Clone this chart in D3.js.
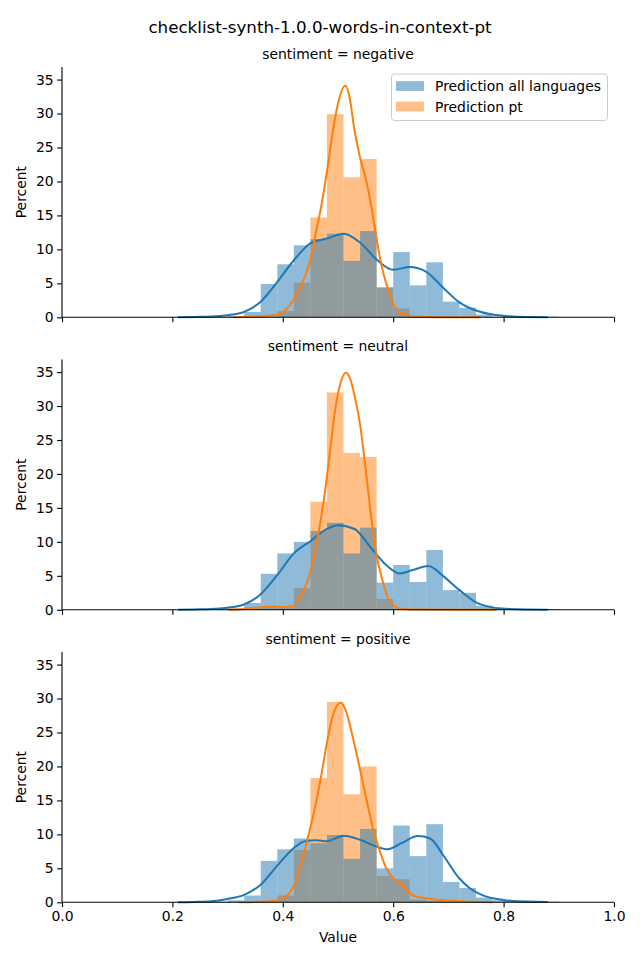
<!DOCTYPE html>
<html><head><meta charset="utf-8">
<script src="https://cdn.jsdelivr.net/npm/d3@7"></script>
<style>
body{margin:0;background:#fff;}
svg text{font-family:"DejaVu Sans",sans-serif;fill:#000;}
</style></head>
<body><svg id="chart" width="640" height="960"></svg>
<script>
const title = "checklist-synth-1.0.0-words-in-context-pt";
const panels = ["sentiment = negative", "sentiment = neutral", "sentiment = positive"];
const seriesNames = ["Prediction all languages", "Prediction pt"];
const binEdges = [0.21,0.24,0.27,0.30,0.33,0.36,0.39,0.42,0.45,0.48,0.51,0.54,0.57,0.60,0.63,0.66,0.69,0.72,0.75,0.78,0.81,0.84,0.87,0.90];
const xTicks = [0, 0.2, 0.4, 0.6, 0.8, 1.0];
const yTicks = [0, 5, 10, 15, 20, 25, 30, 35];

// histogram percents per bin
const allNeg = [0.1,0.1,0.1,0.2,0.8,4.9,7.8,10.6,11.5,12.3,8.3,12.7,4.4,9.6,4.7,8.1,2.3,1.4,0.4,0.1,0.1,0.1,0.1];
const ptNeg  = [0,0,0,0,0.1,0.1,0.9,5.1,14.7,29.9,20.6,23.3,4.4,1.3,0.1,0,0,0,0,0,0,0,0];
const allNeu = [0.1,0.1,0.1,0.2,1.0,5.3,8.3,10.0,11.6,12.8,8.3,12.1,4.0,6.6,4.1,8.8,2.9,2.5,0.6,0.2,0.1,0.1,0.1];
const ptNeu  = [0,0,0,0.1,0.3,0.4,0.35,3.2,15.9,32.0,23.1,22.5,1.6,0.2,0,0,0,0,0,0,0,0,0];
const allPos = [0.1,0.1,0.1,0.3,1.0,6.1,7.8,9.4,8.7,9.9,6.4,10.8,5.0,11.3,6.8,11.5,3.0,2.1,0.7,0.3,0.2,0.2,0.1];
const ptPos  = [0,0,0,0,0.1,0.1,1.0,7.7,18.3,29.5,15.9,20.0,3.9,3.4,0.4,0.2,0.1,0.1,0,0,0,0,0];

// KDE curves: [value, percent]
const kdeAllNeg = [[0.21,0],[0.24,0.05],[0.27,0.1],[0.30,0.3],[0.33,0.8],[0.36,2.3],[0.39,5.2],[0.42,8.4],[0.45,10.9],[0.48,11.6],[0.51,12.3],[0.54,11.0],[0.57,8.5],[0.60,7.0],[0.63,7.4],[0.66,6.7],[0.69,4.4],[0.72,2.2],[0.75,1.0],[0.78,0.4],[0.81,0.15],[0.84,0.05],[0.88,0.02]];
const kdePtNeg = [[0.31,0],[0.33,0.05],[0.36,0.15],[0.39,0.4],[0.42,2.6],[0.44,6],[0.45,8.4],[0.46,12.5],[0.47,16.5],[0.48,21.5],[0.49,27],[0.50,31.5],[0.513,34.1],[0.52,32.8],[0.53,27.5],[0.54,23.5],[0.55,20.5],[0.56,16.5],[0.57,11.5],[0.58,7.2],[0.59,4.3],[0.60,2.0],[0.61,0.9],[0.62,0.4],[0.65,0.05],[0.70,0],[0.757,0]];
const kdeAllNeu = [[0.21,0],[0.24,0.05],[0.27,0.1],[0.30,0.3],[0.33,0.8],[0.36,2.3],[0.39,5.1],[0.42,8.3],[0.45,10.1],[0.48,11.9],[0.50,12.45],[0.53,11.9],[0.56,9.1],[0.59,6.4],[0.612,5.35],[0.637,5.9],[0.664,6.45],[0.69,5.0],[0.72,2.9],[0.75,1.1],[0.78,0.35],[0.81,0.12],[0.84,0.04],[0.88,0.02]];
const kdePtNeu = [[0.30,0],[0.33,0.1],[0.35,0.3],[0.37,0.45],[0.385,0.5],[0.40,0.4],[0.415,0.5],[0.425,1.1],[0.435,2.3],[0.445,4.3],[0.455,7.2],[0.465,11.5],[0.475,16.5],[0.485,23],[0.495,29.5],[0.505,33.5],[0.514,34.9],[0.523,33.8],[0.53,31.5],[0.54,27.3],[0.55,20.8],[0.56,13.8],[0.57,8],[0.58,4.5],[0.59,1.8],[0.60,0.7],[0.61,0.25],[0.63,0.05],[0.70,0],[0.787,0]];
const kdeAllPos = [[0.21,0],[0.24,0.05],[0.27,0.15],[0.30,0.5],[0.33,1.1],[0.36,2.6],[0.39,5.4],[0.42,8.0],[0.44,9.0],[0.46,9.15],[0.48,9.0],[0.51,9.8],[0.54,9.2],[0.57,8.2],[0.59,7.8],[0.615,8.7],[0.645,9.75],[0.667,9.4],[0.69,7.0],[0.72,3.5],[0.74,2.0],[0.765,0.95],[0.80,0.35],[0.84,0.1],[0.88,0.05]];
const kdePtPos = [[0.32,0],[0.35,0.05],[0.38,0.2],[0.40,0.6],[0.41,1.2],[0.42,2.4],[0.43,4.8],[0.44,7.8],[0.45,11],[0.46,14.6],[0.47,18.8],[0.48,23.5],[0.49,27.3],[0.505,29.4],[0.515,28],[0.528,23.9],[0.54,19.5],[0.552,15.0],[0.564,10.6],[0.576,7.5],[0.588,4.9],[0.60,3.6],[0.612,2.9],[0.624,1.9],[0.636,1.0],[0.66,0.6],[0.70,0.25],[0.73,0.1],[0.78,0]];

const histAll = [allNeg, allNeu, allPos];
const histPt = [ptNeg, ptNeu, ptPos];
const kdeAll = [kdeAllNeg, kdeAllNeu, kdeAllPos];
const kdePt = [kdePtNeg, kdePtNeu, kdePtPos];

const blue = "#1f77b4", orange = "#ff7f0e";
const svg = d3.select("#chart");
const left = 62, right = 614, panelH = 250.3, tops = [67, 359.5, 652];
const x = d3.scaleLinear().domain([0, 1]).range([left, right]);

svg.append("text").attr("x", 320).attr("y", 33).attr("text-anchor", "middle")
  .style("font-size", "16.7px").text(title);

panels.forEach((name, i) => {
  const top = tops[i], bottom = top + panelH;
  const y = d3.scaleLinear().domain([0, 36.85]).range([bottom, top]);
  const g = svg.append("g");
  const bins = binEdges.slice(0, -1).map((e, k) => ({x0: e, x1: binEdges[k + 1]}));
  // orange first, blue on top
  g.append("g").selectAll("rect").data(bins).join("rect")
    .attr("x", d => x(d.x0)).attr("width", d => x(d.x1) - x(d.x0))
    .attr("y", (d, k) => y(histPt[i][k])).attr("height", (d, k) => y(0) - y(histPt[i][k]))
    .attr("fill", orange).attr("fill-opacity", 0.5);
  g.append("g").selectAll("rect").data(bins).join("rect")
    .attr("x", d => x(d.x0)).attr("width", d => x(d.x1) - x(d.x0))
    .attr("y", (d, k) => y(histAll[i][k])).attr("height", (d, k) => y(0) - y(histAll[i][k]))
    .attr("fill", blue).attr("fill-opacity", 0.5);
  const line = d3.line().x(d => x(d[0])).y(d => y(d[1])).curve(d3.curveMonotoneX);
  g.append("path").datum(kdeAll[i]).attr("d", line).attr("fill", "none")
    .attr("stroke", blue).attr("stroke-width", 2);
  g.append("path").datum(kdePt[i]).attr("d", line).attr("fill", "none")
    .attr("stroke", orange).attr("stroke-width", 2);

  // axes
  const yAxis = d3.axisLeft(y).tickValues(yTicks).tickFormat(d3.format("d")).tickSize(4.9).tickPadding(3.5);
  const ya = svg.append("g").attr("transform", `translate(${left},0)`).call(yAxis);
  const xAxis = d3.axisBottom(x).tickValues(xTicks).tickSize(4.9).tickPadding(3.5)
    .tickFormat(i === 2 ? d3.format(".1f") : () => "");
  const xa = svg.append("g").attr("transform", `translate(0,${bottom})`).call(xAxis);
  [ya, xa].forEach(a => {
    a.select(".domain").attr("stroke", "#000").attr("stroke-width", 1.1);
    a.selectAll(".tick line").attr("stroke", "#000").attr("stroke-width", 1.1);
    a.selectAll(".tick text").style("font-size", "13.9px").attr("fill", "#000");
  });
  ya.select(".domain").attr("d", `M0,${bottom}V${top}`);
  xa.select(".domain").attr("d", `M${left},0H${right}`);

  svg.append("text").attr("x", (left + right) / 2).attr("y", top - 8.5)
    .attr("text-anchor", "middle").style("font-size", "13.9px").text(name);
  svg.append("text").attr("transform", `translate(26,${(top + bottom) / 2}) rotate(-90)`)
    .attr("text-anchor", "middle").style("font-size", "13.9px").text("Percent");
});

svg.append("text").attr("x", 338).attr("y", 942).attr("text-anchor", "middle")
  .style("font-size", "13.9px").text("Value");

// legend
const lg = svg.append("g");
lg.append("rect").attr("x", 391.5).attr("y", 74).attr("width", 216).attr("height", 46.5)
  .attr("rx", 3).attr("fill", "#fff").attr("fill-opacity", 0.8).attr("stroke", "#cccccc").attr("stroke-width", 1);
seriesNames.forEach((s, k) => {
  const cy = 86 + k * 20.5;
  lg.append("rect").attr("x", 396).attr("y", cy - 4.9).attr("width", 28).attr("height", 9.8)
    .attr("fill", k === 0 ? blue : orange).attr("fill-opacity", 0.5);
  lg.append("text").attr("x", 435).attr("y", cy + 5).style("font-size", "13.9px").text(s);
});
</script></body></html>
